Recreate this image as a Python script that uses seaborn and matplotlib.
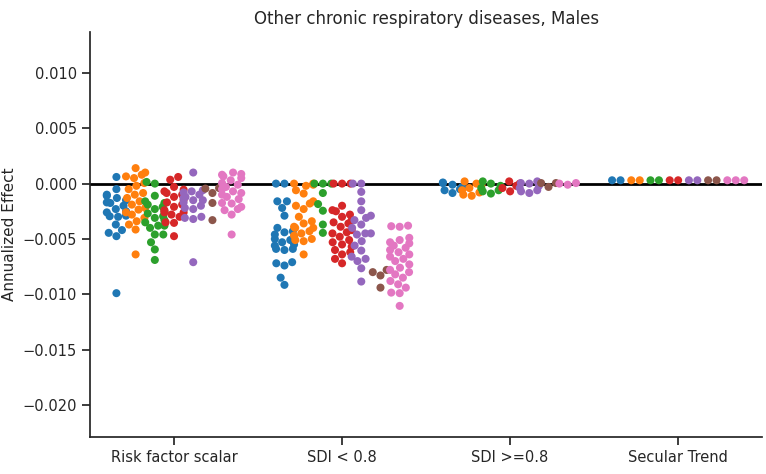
import matplotlib
matplotlib.use('Agg')
import matplotlib.pyplot as plt
import seaborn as sns
import seaborn.categorical as sc
import pandas as pd

# categories on the x axis and the hue groups (legend not shown in the chart)
categories = ['Risk factor scalar', 'SDI < 0.8', 'SDI >=0.8', 'Secular Trend']
groups = ['Group 1', 'Group 2', 'Group 3', 'Group 4', 'Group 5', 'Group 6', 'Group 7']

# values, in units of 0.001, one sub-list per group
risk_factor = [
    [0.6, -0.5, -1.0, -1.1, -1.3, -1.5, -1.7, -1.75, -2.0, -2.3, -2.5, -2.6, -2.9, -2.95, -3.0, -3.7, -4.2, -4.45, -4.75, -9.9],
    [1.4, 1.0, 0.8, 0.65, 0.5, 0.05, -0.2, -0.5, -0.85, -1.0, -1.3, -1.6, -1.9, -2.2, -2.35, -2.6, -2.8, -3.1, -3.4, -3.7, -4.15, -6.4],
    [0.15, 0.0, -1.1, -1.6, -1.75, -1.9, -2.1, -2.3, -2.5, -2.7, -2.95, -3.1, -3.3, -3.5, -3.8, -3.8, -4.0, -4.6, -4.6, -5.3, -5.95, -6.9],
    [0.6, 0.35, -0.3, -0.55, -0.7, -0.85, -1.0, -1.2, -1.45, -1.7, -1.9, -2.1, -2.4, -2.6, -2.6, -2.8, -3.0, -3.5, -3.55, -4.75],
    [1.0, -0.6, -0.7, -0.8, -1.0, -1.2, -1.3, -1.5, -1.5, -1.7, -2.0, -2.2, -2.3, -3.0, -3.1, -3.2, -7.1],
    [-0.4, -0.45, -0.85, -1.75, -3.3],
    [1.0, 0.87, 0.8, 0.66, 0.5, 0.3, 0.05, -0.1, -0.3, -0.5, -0.7, -0.85, -1.0, -1.2, -1.4, -1.75, -1.8, -2.1, -2.3, -2.4, -2.8, -4.6],
]
sdi_low = [
    [0.0, 0.0, -1.6, -1.6, -2.2, -2.9, -4.0, -4.3, -4.4, -4.6, -4.8, -5.0, -5.1, -5.3, -5.5, -5.6, -5.9, -5.9, -6.0, -7.1, -7.2, -7.4, -8.5, -9.15],
    [0.0, 0.0, -0.1, -0.2, -0.6, -0.9, -1.6, -1.8, -2.0, -2.3, -3.0, -3.4, -3.6, -3.9, -4.0, -4.0, -4.3, -4.5, -4.7, -5.0, -5.1, -5.2, -6.4],
    [0.0, 0.0, 0.0, -0.85, -1.85, -2.45, -3.7, -4.45],
    [0.0, 0.0, 0.0, -2.0, -2.4, -2.5, -2.8, -3.0, -3.3, -3.5, -3.6, -3.9, -4.2, -4.4, -4.5, -4.8, -5.1, -5.3, -5.5, -5.7, -6.0, -6.2, -6.4, -6.8, -7.2],
    [0.0, 0.0, -0.75, -1.6, -2.4, -2.9, -3.1, -3.3, -3.7, -4.0, -4.5, -4.5, -4.6, -5.2, -5.6, -6.05, -6.6, -6.8, -7.0, -7.65, -8.85],
    [-7.8, -8.0, -8.3, -9.4],
    [-3.8, -3.85, -3.9, -4.9, -5.1, -5.3, -5.4, -5.6, -5.8, -6.0, -6.2, -6.4, -6.6, -6.8, -7.0, -7.3, -7.6, -7.8, -8.0, -8.2, -8.5, -8.8, -9.1, -9.4, -9.85, -9.9, -11.05],
]
sdi_high = [
    [0.1, 0.05, -0.1, -0.3, -0.5, -0.6, -0.85],
    [0.2, 0.0, -0.1, -0.2, -0.4, -0.6, -0.8, -1.0, -1.1],
    [0.2, 0.0, -0.2, -0.4, -0.6, -0.7, -0.9],
    [0.2, 0.0, -0.2, -0.4, -0.7],
    [0.2, 0.05, 0.0, -0.2, -0.4, -0.6, -0.7, -0.85],
    [0.05, 0.05, -0.3],
    [0.05, 0.0, -0.1],
]
secular = [
    [0.3, 0.3],
    [0.3, 0.3],
    [0.3, 0.3],
    [0.3, 0.3],
    [0.3, 0.3],
    [0.3, 0.3],
    [0.3, 0.3, 0.3],
]

rows = []
for cat, per_group in zip(categories, [risk_factor, sdi_low, sdi_high, secular]):
    for grp, vals in zip(groups, per_group):
        for v in vals:
            rows.append({'effect': cat, 'group': grp, 'value': v / 1000.0})
df = pd.DataFrame(rows)


# old seaborn kept each dodged swarm inside its own slot (width / n_hue)
class SlotBeeswarm(sc.Beeswarm):
    def __init__(self, *args, **kwargs):
        super().__init__(*args, **kwargs)
        self.width = self.width / len(groups)


sc.Beeswarm = SlotBeeswarm

sns.set_style('ticks')
plt.rcParams['font.family'] = ['DejaVu Sans']

fig = plt.figure(figsize=(7.66, 4.74), dpi=100)
ax = fig.add_axes([0.1175, 0.078, 0.8775, 0.8545])

sns.swarmplot(data=df, x='effect', y='value', hue='group', order=categories,
              hue_order=groups, dodge=True, size=5.8, palette='tab10',
              legend=False, warn_thresh=1, ax=ax)
ax.axhline(0, color='black', lw=2, zorder=0.5)

ax.set_ylim(-0.0229, 0.0137)
ax.set_xlim(-0.5, 3.5)
ax.set_yticks([-0.020, -0.015, -0.010, -0.005, 0.0, 0.005, 0.010])
ax.set_xlabel('')
ax.set_ylabel('Annualized Effect', fontsize=11, color='.15')
ax.set_title('Other chronic respiratory diseases, Males', fontsize=12, color='.15')
ax.tick_params(axis='both', labelsize=10.5, colors='.15', length=6, width=1.25)
for s in ['left', 'bottom']:
    ax.spines[s].set_linewidth(1.25)
    ax.spines[s].set_color('.15')
sns.despine(ax=ax)

fig.savefig('out.png', dpi=100)
